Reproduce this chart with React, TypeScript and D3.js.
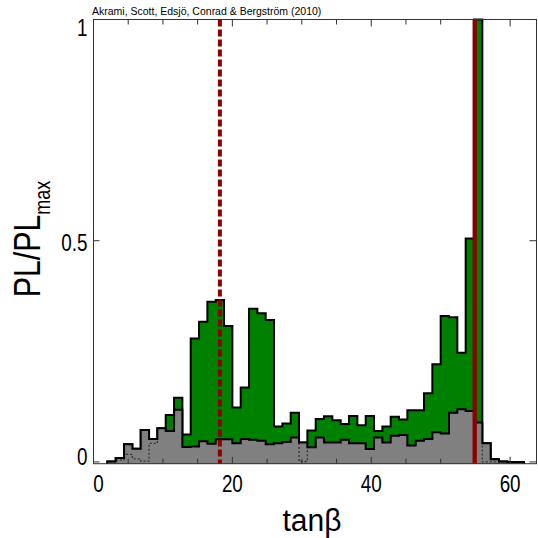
import React from 'react';
import * as d3 from 'd3';

// tanβ histogram: 50 bins of width 1.2 from 2 to 62
const BIN_START = 2;
const BIN_WIDTH = 1.2;

// Profile likelihood (green)
const profileLikelihood = [
  0.001, 0.009, 0.040, 0.030, 0.072, 0.052, 0.076, 0.106, 0.145, 0.062,
  0.279, 0.317, 0.362, 0.366, 0.307, 0.123, 0.168, 0.346, 0.336, 0.321,
  0.080, 0.087, 0.111, 0.044, 0.071, 0.097, 0.103, 0.094, 0.086, 0.104,
  0.083, 0.104, 0.070, 0.080, 0.102, 0.096, 0.117, 0.117, 0.155, 0.221,
  0.330, 0.327, 0.247, 0.505, 1.000, 0.042, 0.006, 0.001, 0, 0,
];

// Marginal posterior (grey)
const posterior = [
  0.001, 0.009, 0.040, 0.030, 0.072, 0.052, 0.076, 0.070, 0.118, 0.034,
  0.035, 0.047, 0.041, 0.051, 0.051, 0.042, 0.052, 0.050, 0.048, 0.040,
  0.042, 0.045, 0.055, 0.044, 0.033, 0.055, 0.044, 0.044, 0.050, 0.042,
  0.042, 0.029, 0.055, 0.044, 0.059, 0.061, 0.037, 0.048, 0.052, 0.067,
  0.064, 0.111, 0.119, 0.115, 0.089, 0.042, 0.006, 0.001, 0, 0,
];

// Dotted histogram
const dottedSeries = [
  0, 0.004, 0.017, 0.007, 0.002, 0.042, 0.076, 0.070, 0.118, 0.034,
  0.035, 0.047, 0.041, 0.051, 0.051, 0.042, 0.052, 0.050, 0.048, 0.040,
  0.042, 0.045, 0.055, 0.001, 0.033, 0.055, 0.044, 0.044, 0.050, 0.042,
  0.042, 0.029, 0.055, 0.044, 0.059, 0.061, 0.037, 0.048, 0.052, 0.067,
  0.064, 0.111, 0.119, 0.115, 0.089, 0, 0, 0, 0, 0,
];

const posteriorMean = 18.2;
const bestFit = 54.9;

const xTicksMinor = [5, 10, 15, 25, 30, 35, 45, 50, 55];
const xTicksMajor = [0, 20, 40, 60];
const yTicks = [0, 0.5, 1];
const yTickLabels = ['0', '0.5', '1'];

const W = 538;
const H = 538;
const LEFT = 93.5;
const RIGHT = 536.5;
const TOP = 19.5;
const BOTTOM = 463.7;
const Y_MIN = -0.004;
const NARROW = 0.82;

const FONT = "'Liberation Sans', Arial, Helvetica, sans-serif";

function NText(props: {
  x: number;
  y: number;
  size: number;
  anchor?: string;
  children: React.ReactNode;
}) {
  return (
    <text
      transform={`translate(${props.x},${props.y}) scale(${NARROW},1)`}
      fontSize={props.size}
      textAnchor={props.anchor || 'start'}
      fill="#000"
    >
      {props.children}
    </text>
  );
}

export default function App() {
  const x = d3.scaleLinear().domain([0, 63.8]).range([LEFT, RIGHT]);
  const y = d3.scaleLinear().domain([Y_MIN, 1]).range([BOTTOM, TOP]);

  const toPts = (vals: number[]) => {
    const end = BIN_START + vals.length * BIN_WIDTH;
    return [
      { x: BIN_START, v: Y_MIN },
      ...vals.map((v, i) => ({ x: BIN_START + i * BIN_WIDTH, v })),
      { x: end, v: vals[vals.length - 1] },
      { x: end, v: Y_MIN },
    ];
  };
  const line = d3
    .line<{ x: number; v: number }>()
    .x((d) => x(d.x))
    .y((d) => y(d.v))
    .curve(d3.curveStepAfter);
  const area = d3
    .area<{ x: number; v: number }>()
    .x((d) => x(d.x))
    .y0(y(Y_MIN))
    .y1((d) => y(d.v))
    .curve(d3.curveStepAfter);

  const plPts = toPts(profileLikelihood);
  const postPts = toPts(posterior);
  const dotPts = toPts(dottedSeries);

  return (
    <svg
      width={W}
      height={H}
      style={{ position: 'absolute', left: 0, top: 0, background: '#fff' }}
      fontFamily={FONT}
    >
      <rect x={0} y={0} width={W} height={H} fill="#fff" />
      <text x={92} y={14.5} fontSize={10.5} fill="#000">
        Akrami, Scott, Edsjö, Conrad &amp; Bergström (2010)
      </text>

      {/* histograms */}
      <path d={area(plPts) || ''} fill="#008000" />
      <path d={line(plPts) || ''} fill="none" stroke="#000" strokeWidth={2} />
      <path d={area(postPts) || ''} fill="#808080" />
      <path
        d={line(dotPts) || ''}
        fill="none"
        stroke="#333"
        strokeWidth={1.3}
        strokeDasharray="2,2"
      />
      <path d={line(postPts) || ''} fill="none" stroke="#000" strokeWidth={2} />

      {/* reference lines */}
      <line
        x1={x(posteriorMean)}
        x2={x(posteriorMean)}
        y1={TOP}
        y2={BOTTOM}
        stroke="#8b0000"
        strokeWidth={4}
        strokeDasharray="7,3"
      />
      <line
        x1={x(bestFit)}
        x2={x(bestFit)}
        y1={TOP}
        y2={BOTTOM}
        stroke="#8b0000"
        strokeWidth={4.3}
      />

      {/* frame */}
      <rect
        x={LEFT}
        y={TOP}
        width={RIGHT - LEFT}
        height={BOTTOM - TOP}
        fill="none"
        stroke="#333"
        strokeWidth={1}
      />

      {/* x ticks */}
      {xTicksMinor.map((t) => (
        <g key={'mi' + t} stroke="#333" strokeWidth={1}>
          <line x1={x(t)} x2={x(t)} y1={TOP} y2={TOP + 5} />
          <line x1={x(t)} x2={x(t)} y1={BOTTOM} y2={BOTTOM - 5} />
        </g>
      ))}
      {xTicksMajor.map((t) => (
        <g key={'ma' + t} stroke="#333" strokeWidth={1}>
          <line x1={x(t)} x2={x(t)} y1={TOP} y2={TOP + 7} />
          <line x1={x(t)} x2={x(t)} y1={BOTTOM} y2={BOTTOM - 7} />
        </g>
      ))}
      {xTicksMajor.map((t) => (
        <NText key={'xl' + t} x={x(t) + (t === 0 ? 5 : 0)} y={491.5} size={23} anchor="middle">
          {t}
        </NText>
      ))}

      {/* y ticks */}
      {yTicks.map((t) => (
        <g key={'yt' + t} stroke="#333" strokeWidth={1}>
          <line x1={LEFT} x2={LEFT + 6} y1={y(t)} y2={y(t)} />
          <line x1={RIGHT} x2={RIGHT - 7} y1={y(t)} y2={y(t)} />
        </g>
      ))}
      {yTicks.map((t, i) => {
        const base = t === 1 ? 36 : t === 0 ? 464.7 : y(t) + 10;
        return (
          <NText key={'yl' + t} x={87.5} y={base} size={23} anchor="end">
            {yTickLabels[i]}
          </NText>
        );
      })}

      {/* axis titles */}
      <text
        x={312}
        y={531}
        fontSize={31}
        textAnchor="middle"
        fill="#000"
        textLength={59}
        lengthAdjust="spacingAndGlyphs"
      >
        tanβ
      </text>
      <text
        transform={`translate(40,239) rotate(-90) scale(${NARROW},1)`}
        fontSize={37}
        textAnchor="middle"
        fill="#000"
      >
        PL/PL
        <tspan fontSize={22} dy={10}>
          max
        </tspan>
      </text>
    </svg>
  );
}
